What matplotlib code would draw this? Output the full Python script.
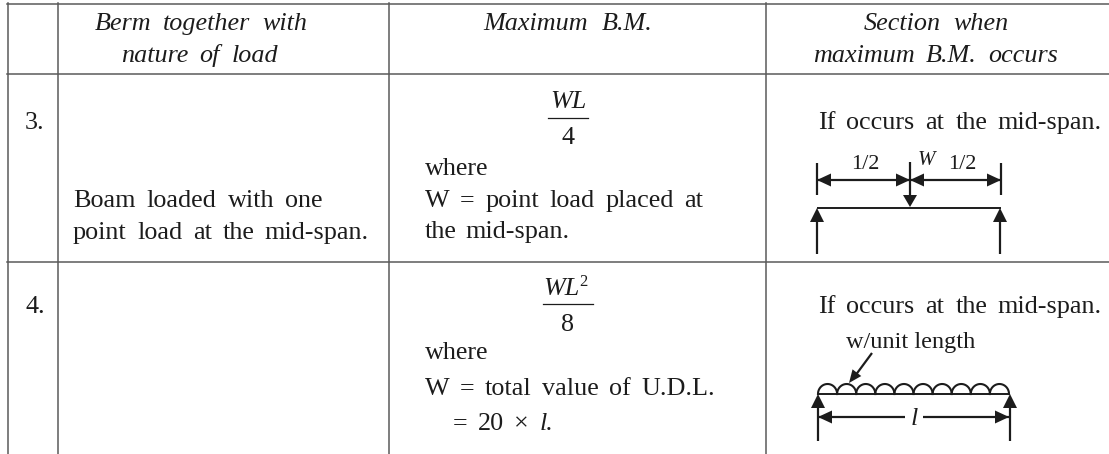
import numpy as np
from matplotlib import pyplot as plt

plt.rcParams['font.family'] = ['Liberation Serif', 'DejaVu Serif']

FS = 18.8
INK = '#1c1c1c'
RULE = '#5a5a5a'

# table rules, in image pixels
h_rules = [(7, 1109, 3.5), (7, 1109, 74), (7, 1109, 261.5)]
v_rules = [(7.5, 3, 454), (58, 3, 454), (389, 3, 454), (766, 3, 454)]

# x0, x1, baseline, text, italic ('_' in front of a word = italic)
header_lines = [
    (95, 307, 30, 'Berm together with', True),
    (121, 278, 62, 'nature of load', True),
    (483, 652, 30, 'Maximum B.M.', True),
    (864, 1009, 30, 'Section when', True),
    (813, 1058, 62, 'maximum B.M. occurs', True),
]
body_lines = [
    (25, 43, 129, '3.', False),
    (25, 43, 313, '4.', False),
    (73, 323, 207, 'Boam loaded with one', False),
    (73, 369, 239, 'point load at the mid-span.', False),
    (425, 489, 175, 'where', False),
    (425, 703, 207, 'W = point load placed at', False),
    (425, 570, 238, 'the mid-span.', False),
    (425, 489, 359, 'where', False),
    (425, 715, 395, 'W = total value of U.D.L.', False),
    (453, 553, 430, '= 20 × _l.', False),
    (818, 1102, 129, 'If occurs at the mid-span.', False),
    (818, 1102, 313, 'If occurs at the mid-span.', False),
]

fig = plt.figure(figsize=(11.09, 4.54), dpi=100)
ax = fig.add_axes([0, 0, 1, 1])
ax.set_xlim(0, 1109)
ax.set_ylim(454, 0)
ax.axis('off')
renderer = fig.canvas.get_renderer()


def justified(x0, x1, y, line, italic=False, size=FS):
    words = line.split(' ')
    items = []
    total = 0
    for w in words:
        it = italic or w.startswith('_')
        t = ax.text(x0, y, w.lstrip('_'), fontsize=size, color=INK,
                    style='italic' if it else 'normal', va='baseline', ha='left')
        wd = t.get_window_extent(renderer).width
        items.append((t, wd))
        total += wd
    gap = (x1 - x0 - total) / max(len(words) - 1, 1)
    x = x0
    for t, wd in items:
        t.set_x(x)
        x += wd + gap


def line(xs, ys, lw=1.6):
    ax.plot(xs, ys, color=INK, lw=lw, solid_capstyle='butt')


def head(x, y, dx, dy, length=14, half=6.5):
    # arrowhead with its tip at x, y pointing along dx, dy
    px, py = -dy, dx
    bx, by = x - dx*length, y - dy*length
    ax.fill([x, bx + px*half, bx - px*half], [y, by + py*half, by - py*half],
            color=INK, lw=0)


def dim(x0, x1, y):
    line([x0, x1], [y, y])
    head(x0, y, -1, 0)
    head(x1, y, 1, 0)


for x0, x1, y in h_rules:
    ax.plot([x0, x1], [y, y], color=RULE, lw=1.1)
for x, y0, y1 in v_rules:
    ax.plot([x, x], [y0, y1], color=RULE, lw=1.1)

for x0, x1, y, s, it in header_lines + body_lines:
    justified(x0, x1, y, s, it)

# formulas
ax.text(568, 108, 'WL', fontsize=FS, style='italic', color=INK, ha='center')
ax.plot([548, 588], [118, 118], color=INK, lw=0.9)
ax.text(568, 144, '4', fontsize=FS, color=INK, ha='center')
ax.text(543, 295, 'WL', fontsize=FS, style='italic', color=INK, ha='left')
ax.text(579, 286, '2', fontsize=12, color=INK, ha='left')
ax.plot([543, 593], [304, 304], color=INK, lw=0.9)
ax.text(568, 331, '8', fontsize=FS, color=INK, ha='center')

# point load sketch
line([817, 817], [163, 195])
line([910, 910], [162, 197])
line([1001, 1001], [163, 195])
dim(817, 910, 180)
dim(910, 1001, 180)
head(910, 207, 0, 1, length=12, half=7)
line([817, 1001], [208, 208], lw=1.4)
line([817, 817], [254, 220])
line([1000, 1000], [254, 220])
head(817, 208, 0, -1, half=7)
head(1000, 208, 0, -1, half=7)
ax.text(865, 169, '1/2', fontsize=16, color=INK, ha='center')
ax.text(962, 169, '1/2', fontsize=16, color=INK, ha='center')
ax.text(926, 165, 'W', fontsize=15, style='italic', color=INK, ha='center')

# u.d.l. sketch
line([818, 1009], [394, 394], lw=1.4)
n_arcs = 10
edges = np.linspace(818, 1009, n_arcs + 1)
for a, b in zip(edges[:-1], edges[1:]):
    th = np.linspace(0, np.pi, 30)
    ax.plot((a + b)/2 + (b - a)/2*np.cos(th), 394 - 10*np.sin(th), color=INK, lw=1.5)
line([818, 818], [441, 405])
line([1010, 1010], [441, 405])
head(818, 394, 0, -1, half=7)
head(1010, 394, 0, -1, half=7)
line([818, 905], [417, 417])
line([923, 1009], [417, 417])
head(818, 417, -1, 0)
head(1009, 417, 1, 0)
ax.text(914, 425, 'l', fontsize=FS, style='italic', color=INK, ha='center')
ax.text(911, 348, 'w/unit length', fontsize=17.5, color=INK, ha='center')
line([872, 855], [353, 376])
d = np.array([849 - 872, 383 - 353], dtype=float)
d = d/np.hypot(*d)
head(849, 383, d[0], d[1], length=13, half=5.5)

fig.savefig('out.png', dpi=100, facecolor='white')
